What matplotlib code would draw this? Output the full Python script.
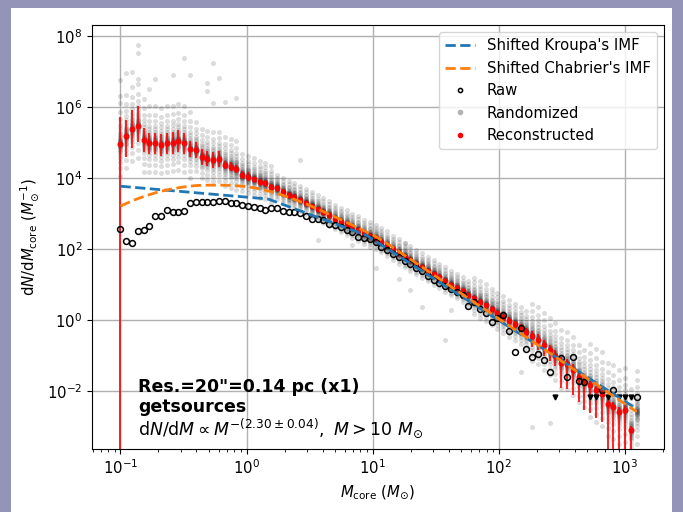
import matplotlib

matplotlib.use("Agg")
import matplotlib.pyplot as plt
import numpy as np
from matplotlib.lines import Line2D
from matplotlib.patches import Rectangle
from matplotlib.ticker import NullLocator

# 90 log-spaced core-mass bins (M_sun)
mass = np.logspace(-1.0, 3.093, 90)

# raw core mass function, log10 dN/dM (nan = empty bin)
raw_log = np.array([
    2.56, 2.23, 2.18, 2.52, 2.55, 2.65, 2.93, 2.93, 3.10, 3.03,
    3.03, 3.08, 3.29, 3.33, 3.33, 3.33, 3.33, 3.35, 3.35, 3.29,
    3.29, 3.24, 3.21, 3.19, 3.16, 3.10, 3.15, 3.15, 3.07, 3.05,
    3.05, 3.02, 2.93, 2.86, 2.86, 2.82, 2.72, 2.68, 2.63, 2.55,
    2.49, 2.33, 2.30, 2.27, 2.21, 2.06, 1.97, 1.86, 1.77, 1.67,
    1.58, 1.46, 1.39, 1.24, 1.13, 1.05, 0.96, 0.88, 0.80, 0.70,
    0.39, 0.50, 0.30, 0.21, -0.05, 0.05, 0.14, -0.30, -0.89, -0.23,
    -0.80, -1.03, -0.95, -1.13, -1.47, np.nan, -1.08, -1.61, -1.05, -1.71,
    -1.74, np.nan, np.nan, -1.97, np.nan, -1.97, np.nan, np.nan, np.nan, -2.17,
])
empty_bins = [75, 81, 82, 84, 86, 87, 88]
empty_level = -2.16

# reconstructed core mass function, log10 dN/dM
recon_log = np.array([
    4.95, 5.18, 5.38, 5.47, 5.07, 4.98, 4.98, 4.93, 4.98, 4.99,
    5.04, 4.98, 4.81, 4.79, 4.60, 4.55, 4.51, 4.53, 4.37, 4.32,
    4.25, 4.08, 4.04, 3.97, 3.90, 3.85, 3.75, 3.71, 3.61, 3.52,
    3.47, 3.38, 3.30, 3.21, 3.12, 3.04, 2.96, 2.86, 2.77, 2.70,
    2.61, 2.54, 2.44, 2.37, 2.30, 2.21, 2.11, 1.99, 1.89, 1.79,
    1.69, 1.59, 1.49, 1.39, 1.30, 1.20, 1.10, 1.00, 0.91, 0.81,
    0.71, 0.61, 0.52, 0.42, 0.30, 0.19, 0.09, -0.02, -0.12, -0.22,
    -0.33, -0.45, -0.55, -0.70, -0.85, -1.00, -1.20, -1.25, -1.40, -1.60,
    -1.74, -1.83, -1.97, -2.08, -2.37, -2.44, -2.58, -2.52, -3.10, np.nan,
])
# error bar extent in dex (9 = reaches below the axis)
err_up = np.array(
    [0.78, 0.45, 0.54, 0.57, 0.35] + [0.30] * 7 + [0.22] * 6 + [0.12] * 5
    + [0.07] * 8 + [0.04] * 30 + [0.06] * 6 + [0.10] * 4 + [0.15] * 5
    + [0.15] * 4 + [0.12] * 4 + [0.12] * 6
)
err_dn = np.array(
    [9.0, 0.58, 0.54, 0.45, 0.35] + [0.30] * 7 + [0.22] * 6 + [0.12] * 5
    + [0.07] * 8 + [0.04] * 30 + [0.06] * 6 + [0.15] * 4 + [0.30] * 5
    + [0.70] * 4 + [0.80] * 4 + [9.0] * 6
)

# randomized realisations: per-bin spread (dex) and offset pattern
rand_width = np.array(
    [0.9] * 5 + [0.8] * 8 + [0.6] * 8 + [0.45] * 6 + [0.3] * 34
    + [0.45] * 10 + [0.7] * 10 + [0.9] * 9
)
rand_offsets = [
    -1.0, -0.75, -0.55, -0.42, -0.32, -0.25, -0.2, -0.16, -0.12, -0.09,
    -0.06, -0.04, -0.02, 0.0, 0.02, 0.04, 0.06, 0.08, 0.1, 0.12,
    0.15, 0.18, 0.22, 0.27, 0.33, 0.4, 0.5, 0.62, 0.78, 1.0, 1.3,
]
outlier_bins = [0, 0, 1, 2, 3, 3, 3, 5, 6, 9, 11, 12, 15, 15, 16, 16, 17, 18,
                20, 31, 34, 40, 44, 48, 49, 50, 52, 56, 57, 69, 71, 74]
outlier_log = [6.75, 6.3, 6.95, 7.0, 7.75, 7.51, 6.8, 6.5, 6.8, 6.9, 7.37,
               6.9, 6.67, 6.45, 7.25, 6.1, 6.81, 6.15, 6.25, 4.51, 2.25, 2.11,
               1.46, 1.17, 2.16, 0.85, 0.37, -0.56, 0.28, -1.46, -3.0, -2.9]

# shifted IMFs, log10 M vs log10 dN/dM
kroupa_logm = [-1.0, 0.17, 0.95, 3.093]
kroupa_logy = [3.77, 3.41, 2.39, -2.50]
chabrier_logm = [-1.0, -0.9, -0.8, -0.7, -0.6, -0.5, -0.4, -0.3, -0.2, -0.1,
                 0.0, 0.1, 0.2, 0.3, 0.4, 0.5, 0.6, 0.7, 0.8, 0.9, 1.0, 1.1,
                 3.093]
chabrier_logy = [3.21, 3.37, 3.50, 3.61, 3.69, 3.75, 3.79, 3.80, 3.80, 3.79,
                 3.76, 3.70, 3.61, 3.50, 3.37, 3.23, 3.07, 2.91, 2.74, 2.57,
                 2.40, 2.19, -2.58]

plt.rcParams["font.size"] = 10.7

fig = plt.figure(figsize=(6.83, 5.12), dpi=100, facecolor="#9494b9")
fig.patches.append(
    Rectangle((11 / 683, 0), 661 / 683, 1 - 8 / 512, transform=fig.transFigure,
              facecolor="white", edgecolor="none", zorder=-1)
)
ax = fig.add_axes([92 / 683, 1 - 449 / 512, 572 / 683, 424 / 512])

# randomized cloud
cx, cy = [], []
centre = np.where(np.isnan(recon_log), -2.6, recon_log)
for i, m in enumerate(mass):
    for off in rand_offsets:
        cx.append(m)
        cy.append(10 ** (centre[i] + off * rand_width[i]))
cx += [mass[i] for i in outlier_bins]
cy += [10 ** v for v in outlier_log]
ax.scatter(cx, cy, s=13, color="0.1", alpha=0.15, linewidths=0, zorder=1)

# IMFs
ax.plot(10 ** np.array(kroupa_logm), 10 ** np.array(kroupa_logy), "--",
        color="#1f77b4", lw=2, zorder=4)
ax.plot(10 ** np.array(chabrier_logm), 10 ** np.array(chabrier_logy), "--",
        color="#ff7f0e", lw=2, zorder=4)

# reconstructed
rec = 10 ** recon_log
lo = rec - 10 ** (recon_log - err_dn)
hi = 10 ** (recon_log + err_up) - rec
ax.errorbar(mass, rec, yerr=[lo, hi], fmt="o", color="red", ms=3.4,
            ecolor="red", elinewidth=1.4, capsize=0, alpha=0.85, zorder=2)

# raw
ax.plot(mass, 10 ** raw_log, "o", mfc="none", mec="black", ms=4.2, mew=1.1,
        zorder=3)
ax.plot(mass[empty_bins], np.full(len(empty_bins), 10 ** empty_level), "v",
        color="black", ms=3.5, zorder=3)

ax.set_xscale("log")
ax.set_yscale("log")
ax.set_xlim(10 ** -1.226, 10 ** 3.31)
ax.set_ylim(10 ** -3.63, 10 ** 8.31)
ax.set_yticks([1e-2, 1e0, 1e2, 1e4, 1e6, 1e8])
ax.yaxis.set_minor_locator(NullLocator())
ax.grid(True, which="major", color="#b0b0b0", lw=1.0)
ax.set_axisbelow(True)
ax.set_xlabel(r"$M_\mathrm{core}$ $(M_{\odot})$")
ax.set_ylabel(r"$\mathrm{d}N/\mathrm{d}M_\mathrm{core}$ $(M_{\odot}^{-1})$")

ax.text(0.08, 0.146, 'Res.=20"=0.14 pc (x1)', transform=ax.transAxes,
        fontsize=12.5, fontweight="bold", va="center")
ax.text(0.08, 0.099, "getsources", transform=ax.transAxes,
        fontsize=12.5, fontweight="bold", va="center")
ax.text(0.08, 0.05,
        r"$\mathrm{d}N/\mathrm{d}M \propto M^{-(2.30\pm0.04)},\ M>10\ M_{\odot}$",
        transform=ax.transAxes, fontsize=12.5, va="center")

handles = [
    Line2D([], [], ls="--", color="#1f77b4", lw=2),
    Line2D([], [], ls="--", color="#ff7f0e", lw=2),
    Line2D([], [], ls="none", marker="o", mfc="none", mec="black", ms=3,
           mew=1.1),
    Line2D([], [], ls="none", marker="o", color="0.7", ms=3),
    Line2D([], [], ls="none", marker="o", color="red", ms=3),
]
labels = ["Shifted Kroupa's IMF", "Shifted Chabrier's IMF", "Raw",
          "Randomized", "Reconstructed"]
ax.legend(handles, labels, loc="upper right")

fig.savefig("out.png", dpi=100, facecolor=fig.get_facecolor())
